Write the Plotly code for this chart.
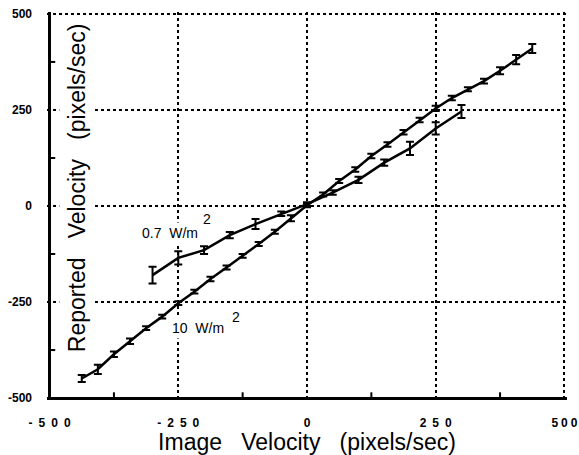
import plotly.graph_objects as go

# 10 W/m^2 series
x10 = [-437.5, -406.25, -375, -343.75, -312.5, -281.25, -250, -218.75, -187.5, -156.25,
       -125, -93.75, -62.5, -31.25, 0, 31.25, 62.5, 93.75, 125, 156.25,
       187.5, 218.75, 250, 281.25, 312.5, 343.75, 375, 406.25, 437.5]
y10 = [-449, -425, -386, -352, -318, -288, -253, -223, -190, -160,
       -130, -99, -67, -32, 2, 30, 65, 95, 130, 160,
       192, 224, 254, 281, 304, 325, 352, 381, 410]
e10 = [9, 12, 7, 7, 5, 5, 5, 5, 6, 5,
       5, 5, 5, 8, 5, 5, 5, 6, 6, 6,
       6, 6, 7, 6, 5, 6, 9, 12, 12]

# 0.7 W/m^2 series
x07 = [-300, -250, -200, -150, -100, -50, 0, 50, 100, 150, 200, 250, 300]
y07 = [-180, -135, -115, -76, -47, -20, 5, 35, 68, 113, 150, 202, 246]
e07 = [22, 17, 10, 8, 13, 6, 5, 6, 8, 8, 17, 16, 17]

axis_range = [-505, 505]
axis_min = -500
gridvals = [-250, 0, 250, 500]
minorvals = [-375, -125, 125, 375]
xticktext = ["<b>-\u20022\u20025\u20020</b>", "<b>0</b>",
             "<b>2\u20025\u20020</b>", "<b>5\u20050\u20050</b>"]
xticktext_min = ["<b>-\u20025\u20020\u20020</b>"]
yticktext = ["<b>-250</b>", "<b>0</b>", "<b>250</b>", "<b>500</b>"]
yticktext_min = ["<b>-500</b>"]

fig = go.Figure()
for xs, ys, es in [(x10, y10, e10), (x07, y07, e07)]:
    fig.add_trace(go.Scatter(
        x=xs, y=ys, mode="lines",
        line=dict(color="black", width=2.5),
        error_y=dict(type="data", array=es, visible=True, color="black",
                     thickness=2, width=4),
        showlegend=False,
    ))

# inward minor ticks on bottom and left axes (error bars rising from the axis)
fig.add_trace(go.Scatter(x=minorvals, y=[axis_min] * len(minorvals), mode="markers",
                         marker=dict(size=1, opacity=0),
                         error_y=dict(type="constant", value=15, symmetric=False,
                                      valueminus=0, width=0, thickness=2,
                                      color="black"),
                         showlegend=False, hoverinfo="skip"))
fig.add_trace(go.Scatter(x=[axis_min] * len(minorvals), y=minorvals, mode="markers",
                         marker=dict(size=1, opacity=0),
                         error_x=dict(type="constant", value=11, symmetric=False,
                                      valueminus=0, width=0, thickness=2,
                                      color="black"),
                         showlegend=False, hoverinfo="skip"))
# invisible trace so that the overlay axes (solid left/bottom frame) exist
fig.add_trace(go.Scatter(x=axis_range, y=axis_range, mode="markers",
                         marker=dict(size=1, opacity=0), xaxis="x2", yaxis="y2",
                         showlegend=False, hoverinfo="skip"))

tickfont = dict(family="Liberation Sans", size=12, color="black")
common = dict(range=axis_range, tickmode="array", zeroline=False, showline=False,
              automargin=False, ticks="", tickfont=tickfont,
              ticklabeloverflow="allow")

fig.update_layout(
    width=579, height=455,
    margin=dict(l=47, r=12, t=12, b=55, autoexpand=False),
    plot_bgcolor="white", paper_bgcolor="white",
    font=dict(family="Liberation Sans", color="black"),
    xaxis=dict(**common, tickvals=gridvals, ticktext=xticktext, showgrid=True,
               gridcolor="black", griddash="dot", gridwidth=1.5,
               ticklabelstandoff=14,
               title=dict(text="Image   Velocity   (pixels/sec)",
                          font=dict(size=23), standoff=10)),
    yaxis=dict(**common, tickvals=gridvals, ticktext=yticktext, showgrid=True,
               gridcolor="black", griddash="dot", gridwidth=1.5,
               ticklabelstandoff=14),
    xaxis2=dict(**common, overlaying="x", anchor="y", side="bottom",
                tickvals=[axis_min], ticktext=xticktext_min, showgrid=True,
                gridcolor="black", griddash="solid", gridwidth=3,
                ticklabelstandoff=14),
    yaxis2=dict(**common, overlaying="y", anchor="x", side="left",
                tickvals=[axis_min], ticktext=yticktext_min, showgrid=True,
                gridcolor="black", griddash="solid", gridwidth=3,
                ticklabelstandoff=14),
    annotations=[
        dict(text="Reported   Velocity   (pixels/sec)", xref="paper", yref="paper",
             x=0.0577, y=0.546, xanchor="center", yanchor="middle", textangle=-90,
             showarrow=False, font=dict(size=23), bgcolor="white", borderpad=4),
        dict(text="0.7  W/m", x=-327, y=-70, xanchor="left", yanchor="middle",
             showarrow=False, font=dict(size=14), bgcolor="white", borderpad=2),
        dict(text="2", x=-205, y=-33, xanchor="left", yanchor="middle",
             showarrow=False, font=dict(size=14)),
        dict(text="10  W/m", x=-269, y=-318, xanchor="left", yanchor="middle",
             showarrow=False, font=dict(size=14), bgcolor="white", borderpad=2),
        dict(text="2", x=-150, y=-289, xanchor="left", yanchor="middle",
             showarrow=False, font=dict(size=14)),
    ],
)

fig.write_html("out.html")
